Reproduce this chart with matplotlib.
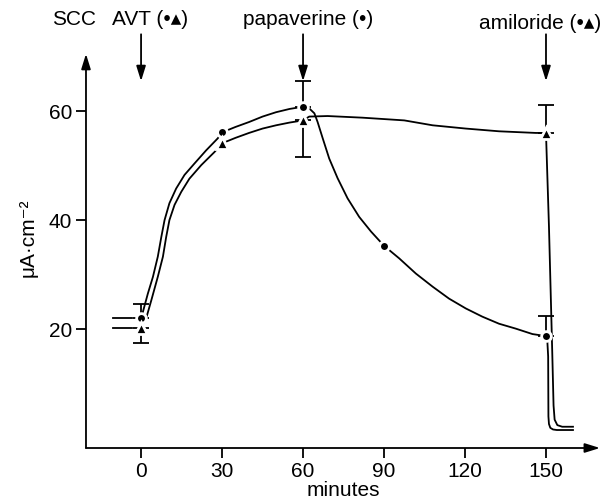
import numpy as np
import matplotlib.pyplot as plt

plt.rcParams['font.family'] = ['Liberation Sans', 'DejaVu Sans']

# short baseline segments before AVT
base_t = [-10.3, -3.5]
base_circ = [22.0, 22.0]
base_tri = [20.3, 20.3]

# traced curve, papaverine group (circles)
circ_t = [0, 0.7, 2.5, 4.4, 6.2, 7.5, 8.7, 10.5, 13.0, 16.1, 19.8, 24.1, 28.4, 30,
          35, 40, 45, 50, 55, 60, 62.3, 64.2, 65.4, 67.3, 69.7, 72.8, 76.5, 80.8, 85.2, 90,
          95.6, 101.8, 108, 114.1, 120.3, 126.4, 132.6, 138.8, 145, 150.4,
          150.8, 150.9, 151.1, 151.6, 152.6, 154, 160]
circ_y = [22.0, 23.2, 26.5, 29.6, 33.3, 36.9, 40.0, 43.1, 45.8, 48.3, 50.4, 52.8, 55.0, 56.1,
          57.1, 58.0, 59.0, 59.8, 60.4, 60.8, 60.5, 59.6, 58.0, 55.0, 51.3, 47.7, 44.0, 40.6, 37.9, 35.3,
          33.0, 30.2, 27.8, 25.6, 23.8, 22.3, 21.0, 20.1, 19.1, 18.7,
          15.0, 4.0, 2.6, 1.9, 1.6, 1.5, 1.5]

# traced curve, control group (triangles)
tri_t = [0, 1.9, 3.8, 6.2, 8.1, 9.3, 10.5, 12.4, 14.9, 17.9, 22.3, 27.2, 30,
         35, 40, 45, 50, 55, 60, 62.3, 69.1, 82, 97.5, 108, 120.3, 132.6, 146.2, 150,
         150.1, 151.1, 152.3, 152.8, 153.2, 154.2, 156, 160]
tri_y = [20.3, 22.0, 25.3, 29.6, 33.3, 36.9, 40.0, 42.8, 45.2, 47.6, 50.1, 52.5, 54.1,
         55.1, 56.0, 56.8, 57.4, 57.9, 58.3, 59.0, 59.1, 58.8, 58.3, 57.4, 56.8, 56.3, 56.0, 56.0,
         54.4, 38.8, 16.1, 6.0, 3.4, 2.4, 2.1, 2.1]

# measured means
circ_pt_t = [0, 30, 60, 90, 150]
circ_pt_y = [22.0, 56.1, 60.8, 35.3, 18.7]
tri_pt_t = [0, 30, 60, 150]
tri_pt_y = [20.3, 54.1, 58.3, 56.0]

# one-sided error bars
circ_err_t = [0, 60, 150]
circ_err_y = [22.0, 60.8, 18.7]
circ_err_up = [2.7, 4.8, 3.7]
tri_err_t = [0, 60]
tri_err_y = [20.3, 58.3]
tri_err_down = [2.8, 6.8]
tri_err150_t = [150]
tri_err150_y = [56.0]
tri_err150_up = [5.1]

fig = plt.figure(figsize=(6.03, 4.99), dpi=100)
ax = fig.add_axes([0.1426, 0.1022, 0.8524, 0.7898])
ax.set_xlim(-20.4, 170)
ax.set_ylim(-1.8, 70.5)

lw = 1.3
ax.plot(base_t, base_circ, color='k', lw=lw)
ax.plot(base_t, base_tri, color='k', lw=lw)
ax.plot(circ_t, circ_y, color='k', lw=lw)
ax.plot(tri_t, tri_y, color='k', lw=lw)

ekw = dict(fmt='none', ecolor='k', elinewidth=lw, capsize=6, capthick=lw)
ax.errorbar(circ_err_t, circ_err_y, yerr=[np.zeros(3), circ_err_up], **ekw)
ax.errorbar(tri_err_t, tri_err_y, yerr=[tri_err_down, np.zeros(2)], **ekw)
ax.errorbar(tri_err150_t, tri_err150_y, yerr=[[0], tri_err150_up], **ekw)

ax.plot(circ_pt_t, circ_pt_y, 'o', color='k', ms=7, mec='white', mew=2, zorder=5)
ax.plot(tri_pt_t, tri_pt_y, '^', color='k', ms=8, mec='white', mew=2, zorder=5)

# axes drawn as arrows
for s in ax.spines.values():
    s.set_visible(False)
head = dict(arrowstyle='-|>,head_length=0.9,head_width=0.28', lw=lw, color='k',
            shrinkA=0, shrinkB=0)
ax.annotate('', xy=(0, 1), xytext=(0, 0), xycoords='axes fraction', arrowprops=head)
ax.annotate('', xy=(1, 0), xytext=(0, 0), xycoords='axes fraction', arrowprops=head)

ax.set_xticks([0, 30, 60, 90, 120, 150])
ax.set_yticks([20, 40, 60])
ax.tick_params(direction='out', length=7, width=lw, labelsize=15, pad=3)
ax.set_xlabel('minutes', fontsize=15, labelpad=0)
fig.text(0.046, 0.523, 'μA·cm⁻²', rotation=90, fontsize=15, ha='center', va='center')

# drug additions
for t in [0, 60, 150]:
    ax.annotate('', xy=(t, 65.5), xytext=(t, 74.1), arrowprops=head, annotation_clip=False)
ax.text(-25, 75.0, 'SCC', fontsize=15, ha='center', va='bottom', clip_on=False)
ax.text(-10.9, 75.0, 'AVT (•▴)', fontsize=15, ha='left', va='bottom', clip_on=False)
ax.text(37.9, 75.0, 'papaverine (•)', fontsize=15, ha='left', va='bottom', clip_on=False)
fig.text(0.997, 1 - 29 / 499, 'amiloride (•▴)', fontsize=15, ha='right', va='baseline')

fig.savefig('out.png', dpi=100)
